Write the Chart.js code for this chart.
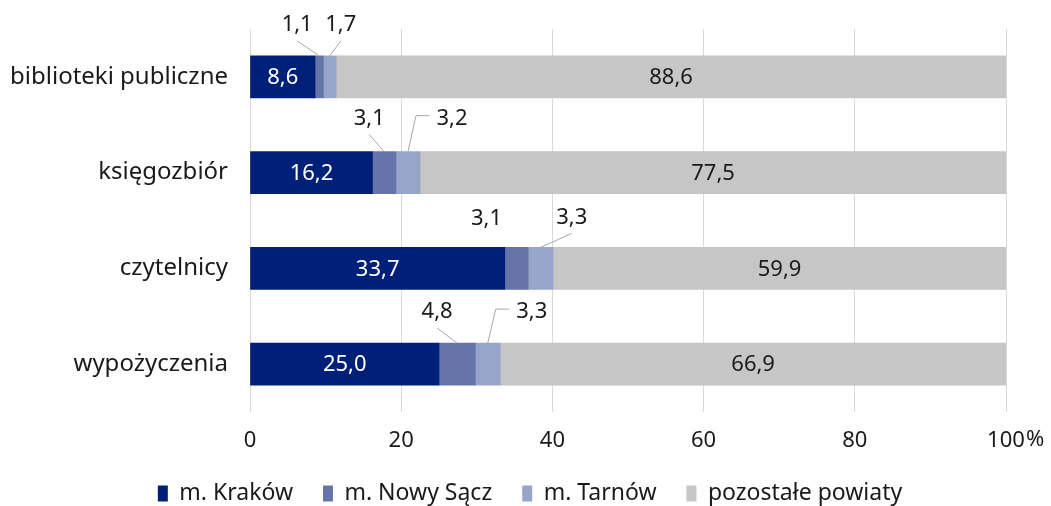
<!DOCTYPE html>
<html>
<head>
<meta charset="utf-8">
<script src="https://cdn.jsdelivr.net/npm/chart.js@4/dist/chart.umd.min.js"></script>
<style>
  html, body { margin: 0; padding: 0; background: #fff; }
  #wrap { width: 1051px; height: 506px; }
</style>
</head>
<body>
<div id="wrap"><canvas id="chart" width="1051" height="506"></canvas></div>
<script>
const categories = ['biblioteki publiczne', 'księgozbiór', 'czytelnicy', 'wypożyczenia'];
const krakow = [8.6, 16.2, 33.7, 25.0];
const nowySacz = [1.1, 3.1, 3.1, 4.8];
const tarnow = [1.7, 3.2, 3.3, 3.3];
const pozostale = [88.6, 77.5, 59.9, 66.9];
const seriesNames = ['m. Kraków', 'm. Nowy Sącz', 'm. Tarnów', 'pozostałe powiaty'];
const xTicks = [0, 20, 40, 60, 80, 100];

const colors = ['#001f78', '#6574a9', '#98a5cb', '#c6c6c6'];
const FONT = '"Noto Sans", sans-serif';
const TEXT = '#1a1a1a';

// where the small values go (offset from segment centre / bar top), and how the leader line looks
const callouts = {
    1: [{dx: -22, dy: -31, line: 'straight'}, {dx: -15, dy: -33, line: 'straight'}, {dx: -30, dy: -29, line: 'none'}, {dx: -20, dy: -31, line: 'straight'}],
    2: [{dx: 11, dy: -31, line: 'straight'}, {dx: 44, dy: -33, line: 'elbow'}, {dx: 31, dy: -30, line: 'straight'}, {dx: 44, dy: -31, line: 'elbow'}]
};

const fmt = v => v.toFixed(1).replace('.', ',');

const labelPlugin = {
    id: 'barLabels',
    afterLayout(chart) {
        // legend in the original is centred a bit right of the canvas middle
        chart.legend.left += 27;
        chart.legend.right += 27;
    },
    afterDatasetsDraw(chart) {
        const ctx = chart.ctx;
        ctx.save();
        ctx.font = '22px ' + FONT;
        ctx.textAlign = 'center';
        ctx.textBaseline = 'middle';
        chart.data.datasets.forEach((ds, di) => {
            const meta = chart.getDatasetMeta(di);
            meta.data.forEach((bar, i) => {
                const v = ds.data[i];
                const cx = (bar.x + bar.base) / 2;
                const top = bar.y - bar.height / 2;
                if (di === 0 || di === 3) {
                    ctx.fillStyle = di === 0 ? '#ffffff' : TEXT;
                    ctx.fillText(fmt(v), cx, bar.y + 1);
                    return;
                }
                const c = callouts[di][i];
                const tx = cx + c.dx, ty = top + c.dy;
                ctx.fillStyle = TEXT;
                ctx.fillText(fmt(v), tx, ty);
                ctx.strokeStyle = '#a6a6a6';
                ctx.lineWidth = 1;
                if (c.line === 'straight') {
                    ctx.beginPath();
                    ctx.moveTo(tx, ty + 16);
                    ctx.lineTo(cx, top);
                    ctx.stroke();
                } else if (c.line === 'elbow') {
                    const w = ctx.measureText(fmt(v)).width;
                    ctx.beginPath();
                    ctx.moveTo(tx - w / 2 - 7, ty - 3);
                    ctx.lineTo(cx + 8, ty - 3);
                    ctx.lineTo(cx, top);
                    ctx.stroke();
                }
            });
        });

        // the "%" sits after the last tick label, which stays centred on its grid line
        const xs = chart.scales.x;
        ctx.font = '22px ' + FONT;
        ctx.textAlign = 'left';
        ctx.fillStyle = TEXT;
        const last = xTicks[xTicks.length - 1];
        const w = ctx.measureText(String(last)).width;
        ctx.fillText('%', xs.getPixelForValue(last) + w / 2 + 1, xs.top + 28);
        ctx.restore();
    }
};

new Chart(document.getElementById('chart').getContext('2d'), {
    type: 'bar',
    data: {
        labels: categories,
        datasets: [krakow, nowySacz, tarnow, pozostale].map((d, k) => ({
            label: seriesNames[k],
            data: d,
            backgroundColor: colors[k],
            borderWidth: 0,
            barThickness: 42
        }))
    },
    options: {
        indexAxis: 'y',
        responsive: false,
        animation: false,
        layout: { padding: { top: 29, right: 45, left: 0, bottom: 0 } },
        scales: {
            x: {
                stacked: true,
                min: 0,
                max: 100,
                afterBuildTicks: s => { s.ticks = xTicks.map(v => ({ value: v })); },
                afterFit: s => { s.height = 40; },
                grid: { color: '#d9d9d9', drawTicks: false },
                border: { display: false },
                ticks: {
                    padding: 16,
                    color: TEXT,
                    font: { family: FONT, size: 22 },
                    maxRotation: 0
                }
            },
            y: {
                stacked: true,
                grid: { display: false, drawTicks: false },
                border: { display: false },
                afterFit: s => { s.width = 250; s.paddingTop = 0; s.paddingBottom = 0; },
                ticks: {
                    padding: 22,
                    color: TEXT,
                    font: { family: FONT, size: 24 }
                }
            }
        },
        plugins: {
            legend: {
                position: 'bottom',
                maxHeight: 54,
                labels: {
                    boxWidth: 10,
                    boxHeight: 16,
                    padding: 30,
                    color: TEXT,
                    font: { family: FONT, size: 23, lineHeight: 1 }
                }
            },
            tooltip: { enabled: false }
        }
    },
    plugins: [labelPlugin]
});
</script>
</body>
</html>
